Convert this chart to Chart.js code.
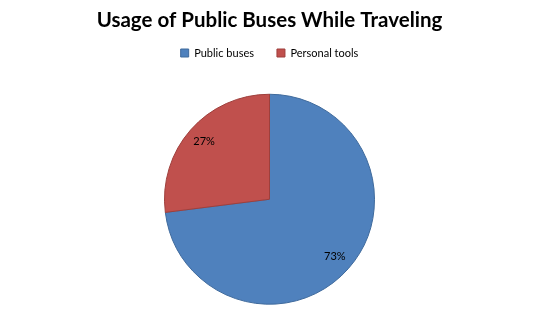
<!DOCTYPE html>
<html><head><meta charset="utf-8">
<script src="https://cdn.jsdelivr.net/npm/chart.js@4"></script>
<style>html,body{margin:0;padding:0;background:#fff}#wrap{width:535px;height:330px}</style>
</head><body><div id="wrap"><canvas id="c" width="535" height="330"></canvas></div>
<script>
const titleText = "Usage of Public Buses While Traveling";
const categories = ["Public buses", "Personal tools"];
const values = [73, 27];
const sliceColors = ["#4F81BD", "#C0504D"];
const sliceBorders = ["#3F6A9C", "#9E3F3C"];

const labelPlugin = {
  id: "sliceLabels",
  afterDatasetsDraw(chart) {
    const ctx = chart.ctx;
    const meta = chart.getDatasetMeta(0);
    const total = values.reduce((a, b) => a + b, 0);
    ctx.save();
    ctx.font = "11px Lato";
    ctx.fillStyle = "#000";
    ctx.textAlign = "center";
    ctx.textBaseline = "middle";
    meta.data.forEach((arc, i) => {
      const p = arc.getProps(["x", "y", "startAngle", "endAngle", "outerRadius"], true);
      const mid = (p.startAngle + p.endAngle) / 2;
      const r = p.outerRadius * 0.83;
      ctx.fillText(Math.round(values[i] / total * 100) + "%", p.x + Math.cos(mid) * r, p.y + Math.sin(mid) * r);
    });
    ctx.restore();
  }
};

new Chart(document.getElementById("c"), {
  type: "pie",
  data: {
    labels: categories,
    datasets: [{
      data: values,
      backgroundColor: sliceColors,
      borderColor: sliceBorders,
      borderWidth: 1,
      radius: 105
    }]
  },
  options: {
    responsive: false,
    animation: false,
    layout: { padding: { top: 0, bottom: 0, left: 4, right: 0 } },
    plugins: {
      title: {
        display: true,
        text: titleText,
        color: "#000",
        font: { family: "Lato", size: 20.5, weight: "bold", lineHeight: 1.0 },
        padding: { top: 10, bottom: -6 }
      },
      legend: {
        position: "top",
        labels: {
          color: "#000",
          font: { family: "Lato", size: 11, lineHeight: 1.0 },
          boxWidth: 8,
          boxHeight: 8,
          padding: 23
        }
      },
      tooltip: { enabled: false }
    }
  },
  plugins: [labelPlugin]
});
</script></body></html>
